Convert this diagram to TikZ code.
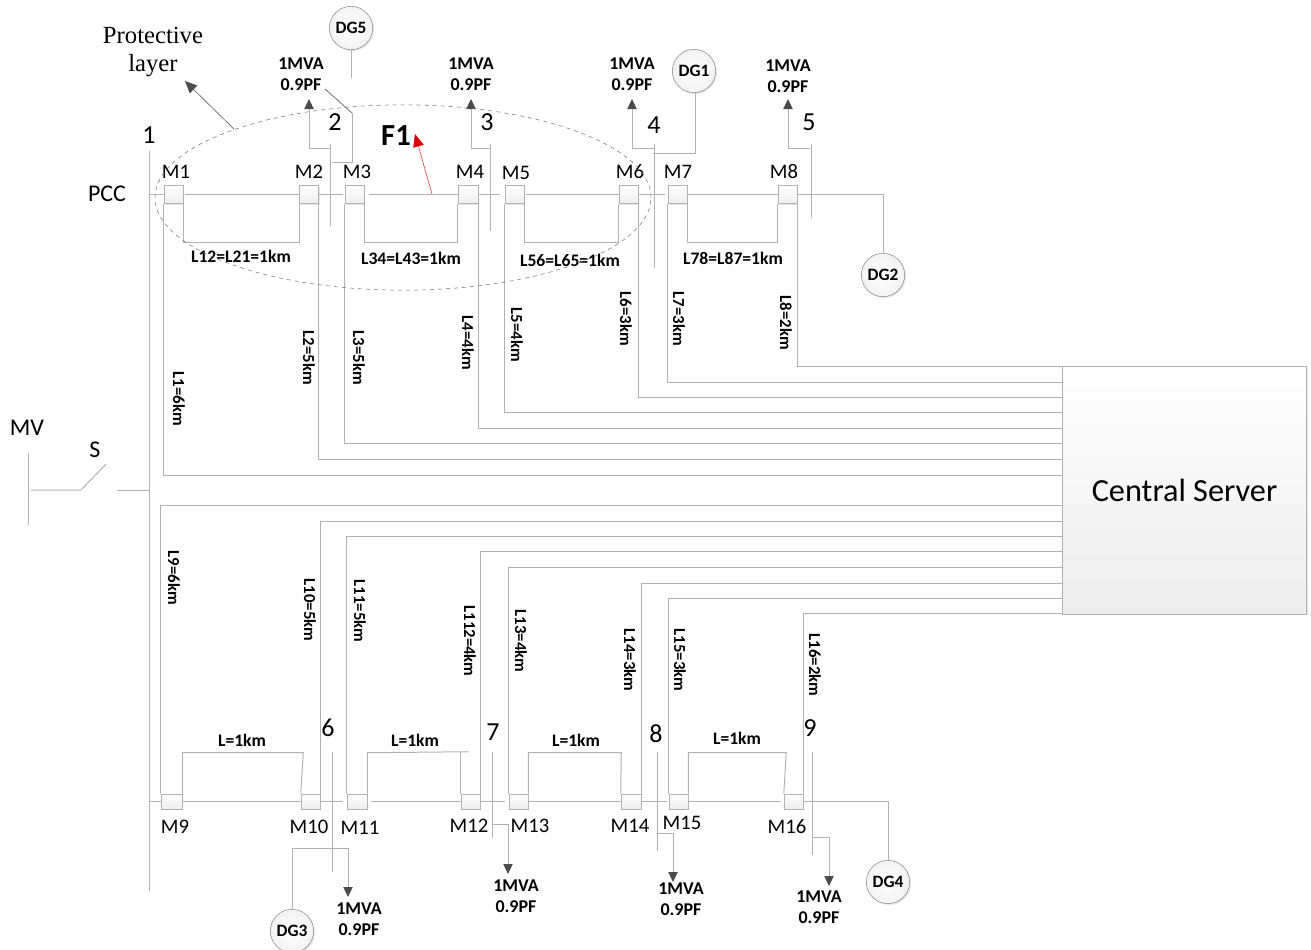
\documentclass[tikz,border=0pt]{standalone}
\usepackage{fontspec}
\setmainfont{Carlito}
\newfontfamily\serifface{Liberation Serif}
\usetikzlibrary{%
  arrows.meta,
  shapes.geometric,
  shadows
}
\def\fs#1{\fontsize{#1}{#1}\selectfont}
\tikzset{
  wire/.style={draw=black!30,line width=.75pt},
  loadline/.style={wire,-{Triangle[length=7.5pt,width=7pt,color=black!70]}},
  meter/.style={draw=black!30,top color=white,bottom color=black!7,minimum height=#1,inner sep=0pt,
    drop shadow={shadow xshift=.8pt,shadow yshift=-.8pt,fill=black!20}},
  gen/.style={circle,draw=black!45,inner color=white,outer color=black!5,minimum size=32.5pt,inner sep=0pt,
    font=\fs{13}\bfseries,drop shadow={shadow xshift=1pt,shadow yshift=-1pt,fill=black!20}},
  tag/.style={inner sep=0pt,font=\fs{15.5}},
  num/.style={inner sep=0pt,font=\fs{19.5}},
  len/.style={inner sep=0pt,font=\fs{13.2}\bfseries},
  ldtxt/.style={inner sep=0pt,align=center,font=\fontsize{13.5}{15.75}\selectfont\bfseries}
}
\begin{document}
\begin{tikzpicture}[x=0.75pt,y=-0.75pt]
  \useasboundingbox (0,0) rectangle (1311,950);

  \node[draw=black!30,top color=white,bottom color=black!7,minimum width=183pt,minimum height=186pt,
    inner sep=0pt,font=\fs{24.2},drop shadow={shadow xshift=1pt,shadow yshift=-1pt,fill=black!20}]
    (server) at (1184.5,490) {Central Server};

  % main bus and feeder
  \coordinate (bus1a) at (149,151);
  \coordinate (bus1b) at (149,891);
  \draw[wire] (bus1a) -- (bus1b);
  \node[num] (n1) at (149,135) {1};
  \node[inner sep=0pt,font=\fs{18}] (pcc) at (107,194) {PCC};
  \node[inner sep=0pt,font=\fs{18}] (mv) at (27,428) {MV};
  \node[inner sep=0pt,font=\fs{18}] (sw) at (95,450) {S};
  \coordinate (mva) at (28,453);
  \coordinate (mvb) at (28,525);
  \coordinate (swa) at (31,490);
  \coordinate (swb) at (81,490);
  \coordinate (swc) at (106,464);
  \coordinate (swd) at (117,490);
  \draw[wire] (mva) -- (mvb);
  \draw[wire] (swa) -- (swb) -- (swc);
  \draw[wire] (swd) -- (swd -| bus1a);

  % upper meters
  \foreach \n/\x/\w/\lx/\ly in {1/173.5/14.25/176/172,2/309/14.25/309/172,3/354.5/14.25/357/172,4/468/15/470/172,
    5/514.5/14.25/516/173,6/628.5/14.25/630/172,7/677.5/14.25/678/172,8/787.5/14.25/784/172} {
    \node[meter=13.5pt,minimum width=\w pt] (M\n) at (\x,194.5) {};
    \node[tag] (tM\n) at (\lx,\ly) {M\n};
  }
  % lower meters
  \foreach \n/\x/\w/\lx/\ly in {9/171.5/15.75/175/827,10/310.5/14.25/309/827,11/357/15/360/828,12/470.5/14.25/469/826,
    13/518.5/14.25/530/826,14/631/15/630/826,15/678.5/14.25/682/823,16/793.5/14.25/787/827} {
    \node[meter=11.25pt,minimum width=\w pt] (M\n) at (\x,801.5) {};
    \node[tag] (tM\n) at (\lx,\ly) {M\n};
  }

  \draw[wire] (M1.west -| bus1a) -- (M1.west);
  \draw[wire] (M9.west -| bus1a) -- (M9.west);
  \foreach \a/\b/\s/\e in {M1/M2/1.5/0,M2/M3/0/1.5,M3/M4/3.5/0,M4/M5/0/3.5,M5/M6/1.5/0,M6/M7/0/2.2,M7/M8/0/0,
    M9/M10/0/0,M10/M11/0/3,M11/M12/3/0,M12/M13/0/3,M13/M14/0/0,M14/M15/0/1.5,M15/M16/0/2.2} {
    \draw[wire,shorten <=\s pt,shorten >=\e pt] (\a.east) -- (\b.west);
  }

  % short loops
  \foreach \a/\b/\lab/\x/\y in {M1/M2/L12=L21=1km/241/256,M3/M4/L34=L43=1km/411/258,
    M5/M6/L56=L65=1km/570/260,M7/M8/L78=L87=1km/733/258} {
    \draw[wire] (\a.south east) -- ++(0,39) -| (\b.south west);
    \node[len] (t\a) at (\x,\y) {\lab};
  }
  \foreach \a/\b/\w/\x/\y in {M9/M10/121/242/740,M13/M14/93/576/740,M15/M16/98/737/738} {
    \draw[wire] (\a.north east) -- ++(0,-41) -- ++(\w,0) -- (\b.north west);
    \node[len] (t\a) at (\x,\y) {L=1km};
  }
  \draw[wire] (M11.north east) -- ++(0,-41) -- ++(101,-1);
  \draw[wire] (M12.north west) -- ++(0,-42);
  \node[len] (tM11) at (415,740) {L=1km};

  % feeders to the server
  \foreach \m/\an/\y in {M1/south west/475,M2/south east/459,M3/south west/443,M4/south east/428,
    M5/south west/412,M6/south east/397,M7/south west/382,M8/south east/366,
    M9/north west/505,M10/north east/521,M11/north west/536,M12/north east/551,
    M13/north west/567,M14/north east/583,M15/north west/598,M16/north east/613} {
    \coordinate (in\m) at (1063,\y);
    \draw[wire] (\m.\an) |- (in\m);
  }
  \foreach \lab/\x/\y in {L1=6km/179/399,L2=5km/309/358,L3=5km/359/358,L4=4km/468/343,L5=4km/517/335,
    L6=3km/626/319,L7=3km/679/319,L8=2km/786/323,L9=6km/174/578,L10=5km/310/610,L11=5km/360/611,
    L112=4km/470/641,L13=4km/521/641,L14=3km/630/660,L15=3km/680/660,L16=2km/815/665} {
    \node[len,font=\fs{12.6}\bfseries,rotate=-90] (t\lab) at (\x,\y) {\lab};
  }

  % load buses
  \foreach \n/\x/\ya/\yb/\lx/\ly in {2/330/144/226/335/122,3/490/144/231/487/122,4/654/144/268/654/125,5/811/144/218/809/122,
    6/332/752/872/328/728,7/492/752/838/493/732,8/657/752/851/656/734,9/812/752/855/810/728} {
    \coordinate (bus\n a) at (\x,\ya);
    \coordinate (bus\n b) at (\x,\yb);
    \draw[wire] (bus\n a) -- (bus\n b);
    \node[num] (n\n) at (\lx,\ly) {\n};
  }
  \foreach \n/\tx/\ty/\ax/\ay/\lx/\ly in {2/330/148/309/99/301/74.5,3/490/148/471/99/471/74.5,4/654/148/632/99/632/74.5,
    5/810/148/788/99/788/76.5,6/332/848/348/897/359/919,7/492/824/508/874/516/896,8/657/833/673/882/681/899.5,9/812/837/829/886/819/907.5} {
    \coordinate (tap\n) at (\tx,\ty);
    \coordinate (tip\n) at (\ax,\ay);
    \draw[loadline] (tap\n) -| (tip\n);
    \node[ldtxt] (ld\n) at (\lx,\ly) {1MVA\\0.9PF};
  }

  % generators
  \node[gen] (DG5) at (351,28) {DG5};
  \node[gen] (DG1) at (694,71) {DG1};
  \node[gen] (DG2) at (883,275) {DG2};
  \node[gen] (DG3) at (292,931) {DG3};
  \node[gen] (DG4) at (888,882) {DG4};
  \coordinate (dg5a) at (351,78);
  \coordinate (dg5b) at (325,89);
  \coordinate (dg5c) at (352,113);
  \coordinate (dg5d) at (332,162);
  \coordinate (dg1a) at (653,153);
  \draw[wire] (DG5.south) -- (dg5a);
  \draw[black!55,line width=.6pt] (dg5b) -- (dg5c);
  \draw[wire] (dg5c) |- (dg5d);
  \draw[wire] (DG1.-85) |- (dg1a);
  \draw[wire] (M8.east) -| (DG2.north);
  \draw[wire] (M16.east) -| (DG4.north);
  \draw[wire] (DG3.north) |- (tap6);

  % protective layer and fault
  \node[ellipse,draw=black!55,dashed,line width=.4pt,minimum width=372pt,minimum height=139pt,inner sep=0pt]
    (layer) at (403,197.5) {};
  \node[inner sep=0pt,align=center,font=\fontsize{18.5}{21.7}\selectfont\serifface] (prot) at (153,52) {Protective\\layer};
  \coordinate (prottip) at (185,81);
  \draw[black!60,line width=.5pt,-{Triangle[length=9pt,width=8pt,color=black!70]}] (layer.158) -- (prottip);
  \node[inner sep=0pt,font=\fs{23}\bfseries] (F1) at (396,136) {F1};
  \coordinate (fault) at (432,194);
  \coordinate (faulttip) at (415,134);
  \draw[red!80!black!70,line width=.5pt,-{Triangle[length=9.5pt,width=8pt,color=red!85!black]}] (fault) -- (faulttip);
\end{tikzpicture}
\end{document}
